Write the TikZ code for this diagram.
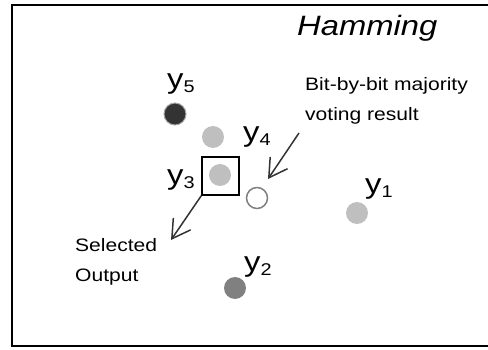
\documentclass[tikz,border=0pt]{standalone}
\usepackage{fontspec}
\setmainfont[FakeStretch=1.17]{Liberation Sans}
\usetikzlibrary{arrows.meta}
\definecolor{lightdot}{HTML}{BFBFBF}
\definecolor{middot}{HTML}{808080}
\definecolor{darkdot}{HTML}{333333}
\definecolor{arrowcol}{HTML}{333333}
\newcommand{\dotradius}{11pt}
\newcommand{\ylabel}[1]{{\fontsize{28}{28}\selectfont y}\raisebox{-4pt}{\fontsize{17}{17}\selectfont #1}}

\begin{document}
\begin{tikzpicture}[x=1pt, y=-1pt,
    dot/.style={circle, inner sep=0pt, minimum size=2*\dotradius},
    note/.style={anchor=base west, inner sep=0pt, font=\fontsize{18}{18}\selectfont},
    ylab/.style={anchor=base west, inner sep=0pt},
    pointer/.style={arrowcol, line width=1.5pt, -{Straight Barb[length=18pt, width=21pt, line width=1.5pt]}}]

\useasboundingbox (0,0) rectangle (488,350);

% frame, open on the right
\draw[line width=2pt] (488,5) -- (11.5,5) -- (11.5,346) -- (488,346);

\node[anchor=base west, inner sep=0pt, font=\fontsize{28}{28}\selectfont\itshape] (title) at (297,36) {Hamming};

% candidate words
\node[dot, fill=darkdot, draw=middot!70, line width=1pt] (y5) at (175,114) {};
\node[dot, fill=lightdot] (y4) at (213,137) {};
\node[dot, fill=lightdot] (y3) at (220,175) {};
\node[dot, fill=middot] (y2) at (235,288) {};
\node[dot, fill=lightdot] (y1) at (357,213) {};
% voted word
\node[dot, draw=middot, line width=1.5pt, minimum size=2*\dotradius-1pt] (vote) at (257,198) {};

\node[ylab] (l5) at (167,89) {\ylabel{5}};
\node[ylab] (l4) at (243,142) {\ylabel{4}};
\node[ylab] (l3) at (167,185) {\ylabel{3}};
\node[ylab] (l2) at (244,272) {\ylabel{2}};
\node[ylab] (l1) at (365,194) {\ylabel{1}};

% box round the chosen word
\node[draw, line width=1.5pt, minimum width=37pt, minimum height=38pt, inner sep=0pt] (sel) at (220.5,176) {};

\node[note] (maj1) at (305,91) {Bit-by-bit majority};
\node[note] (maj2) at (305,121) {voting result};
\node[note] (out1) at (75,252) {Selected};
\node[note] (out2) at (75,282) {Output};

\coordinate (majfrom) at (299,133);
\coordinate (majto) at (268,179);
\coordinate (outto) at (171,240);

\draw[pointer] (majfrom) -- (majto);
\draw[pointer] (sel.south west) -- (outto);

\end{tikzpicture}
\end{document}
